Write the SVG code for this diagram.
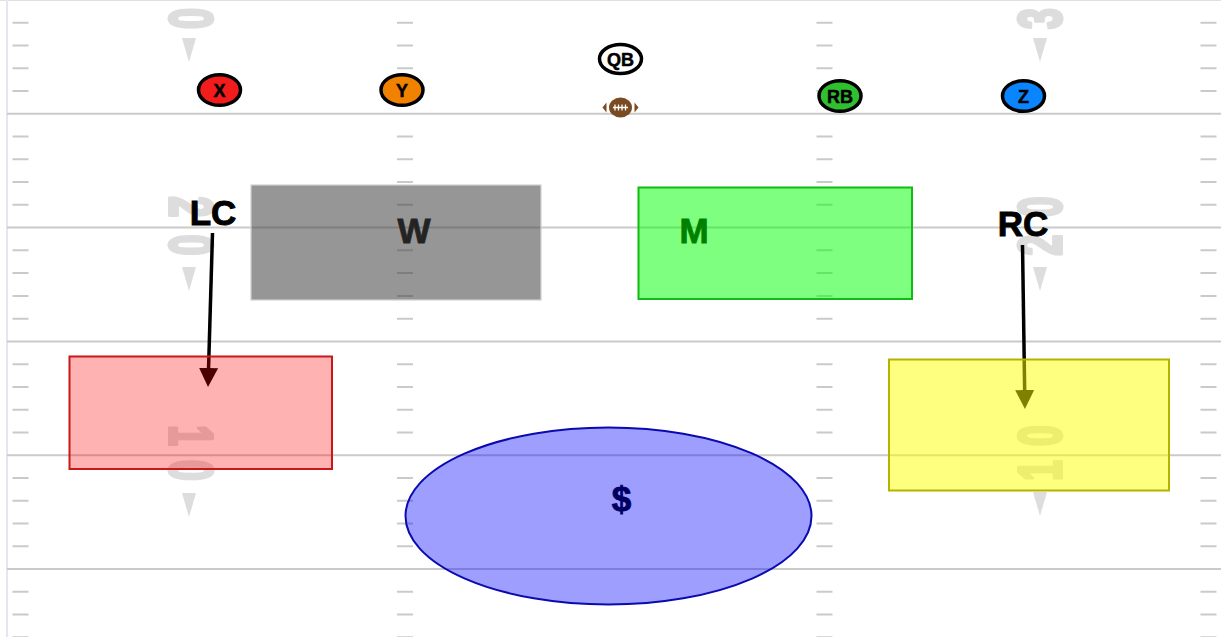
<svg xmlns="http://www.w3.org/2000/svg" xmlns:xlink="http://www.w3.org/1999/xlink" width="1221" height="637" viewBox="0 0 1221 637">
<style>
.yl{stroke:#cacaca;stroke-width:2;fill:none}
.hash{stroke:#cacaca;stroke-width:2;fill:none}
.num{font-family:"Liberation Sans",Arial,sans-serif;font-weight:bold;font-size:62px;fill:#dddddd;stroke:#dddddd;stroke-width:4;stroke-linejoin:round;text-anchor:middle}
.dir{fill:#dddddd}
.lbl{font-family:"Liberation Sans",Arial,sans-serif;font-weight:bold;font-size:35px;text-anchor:middle;fill:#000;stroke:#000;stroke-width:0.9}
.conn{stroke:#000;stroke-width:3.5;fill:none}
.pl{stroke:#000;stroke-width:3.5}
.pt{font-family:"Liberation Sans",Arial,sans-serif;font-weight:bold;font-size:18px;text-anchor:middle;fill:#000;stroke:#000;stroke-width:0.5}
</style>
<defs>
<marker id="ah" markerUnits="userSpaceOnUse" markerWidth="20" markerHeight="20" refX="9" refY="9.5" orient="auto">
<path d="M0,0 L19,9.5 L0,19 Z" fill="#000"/>
</marker>
<path id="hashcol" class="hash" d="M0 22.76h16M0 45.52h16M0 68.28h16M0 91.04h16M0 136.56h16M0 159.32h16M0 182.08h16M0 204.84h16M0 250.36h16M0 273.12h16M0 295.88h16M0 318.64h16M0 364.16h16M0 386.92h16M0 409.68h16M0 432.44h16M0 477.96h16M0 500.72h16M0 523.48h16M0 546.24h16M0 591.76h16M0 614.52h16M0 637.28h16"/>
<path id="dirArrow" class="dir" d="M-7 0 L7 0 L0 24 Z"/>
</defs>
<rect width="1221" height="637" fill="#ffffff"/>
<g id="field">
<line x1="0" y1="0.5" x2="1221" y2="0.5" stroke="#e0e0e0" stroke-width="1"/>
<line x1="7" y1="0" x2="7" y2="637" stroke="#e6e6f0" stroke-width="2"/>
<path class="yl" d="M7 113.8H1221M7 227.6H1221M7 341.4H1221M7 455.2H1221M7 569H1221"/>
<use xlink:href="#hashcol" x="12.5"/>
<use xlink:href="#hashcol" x="397"/>
<use xlink:href="#hashcol" x="816.5"/>
<use xlink:href="#hashcol" x="1200.5"/>
<text class="num" transform="translate(170,0) rotate(90) scale(0.6,1)" x="-31 31" y="0">30</text>
<text class="num" transform="translate(170,226) rotate(90) scale(0.6,1)" x="-32 32" y="0">20</text>
<text class="num" transform="translate(170,453) rotate(90) scale(0.6,1)" x="-29 29" y="0">10</text>
<text class="num" transform="translate(1061,0) rotate(-90) scale(0.6,1)" x="-31 31" y="0">30</text>
<text class="num" transform="translate(1061,226) rotate(-90) scale(0.6,1)" x="-32 32" y="0">20</text>
<text class="num" transform="translate(1061,453) rotate(-90) scale(0.6,1)" x="-29 29" y="0">10</text>
<use xlink:href="#dirArrow" x="189" y="38"/>
<use xlink:href="#dirArrow" x="189" y="267"/>
<use xlink:href="#dirArrow" x="189" y="493"/>
<use xlink:href="#dirArrow" x="1040" y="38"/>
<use xlink:href="#dirArrow" x="1040" y="267"/>
<use xlink:href="#dirArrow" x="1040" y="492"/>
</g>
<g id="connectors">
<line class="conn" x1="212.5" y1="233" x2="208.3" y2="377" marker-end="url(#ah)"/>
<line class="conn" x1="1022.5" y1="245" x2="1024.8" y2="399" marker-end="url(#ah)"/>
</g>
<g id="node-LC"><text class="lbl" x="213" y="225">LC</text></g>
<g id="node-RC"><text class="lbl" x="1023" y="236">RC</text></g>
<g id="node-W">
<text class="lbl" x="414" y="243">W</text>
<rect x="251" y="185" width="290" height="115" fill="#404040" fill-opacity="0.55" stroke="#d0d0d0" stroke-width="1.2"/>
</g>
<g id="node-M">
<text class="lbl" x="694" y="243">M</text>
<rect x="638.5" y="187.5" width="273.5" height="111.5" fill="#00ff00" fill-opacity="0.5" stroke="#11bb11" stroke-width="2"/>
</g>
<g id="node-deep-left">
<rect x="69.5" y="356.5" width="262.5" height="112.5" fill="#ff0000" fill-opacity="0.3" stroke="#c81818" stroke-width="2"/>
</g>
<g id="node-deep-right">
<rect x="889" y="359.5" width="280" height="131" fill="#ffff00" fill-opacity="0.5" stroke="#b4b400" stroke-width="2"/>
</g>
<g id="node-money">
<text class="lbl" x="621.5" y="511">$</text>
<ellipse cx="608.5" cy="516" rx="203" ry="88.5" fill="#0000ff" fill-opacity="0.38" stroke="#0a0ab0" stroke-width="2"/>
</g>
<g id="node-ball">
<path d="M606.5 102.5 L602.5 107.5 L606.5 112.5 Z" fill="#7a4a22"/>
<path d="M634.5 102.5 L638.5 107.5 L634.5 112.5 Z" fill="#7a4a22"/>
<ellipse cx="620.5" cy="107.5" rx="11.5" ry="10" fill="#7a4a22"/>
<path d="M613 107.5H628M615 104.5V110.5M618.5 104.5V110.5M622 104.5V110.5M625.5 104.5V110.5" stroke="#ffffff" stroke-width="1.3" fill="none"/>
</g>
<g id="node-QB">
<ellipse class="pl" cx="620.5" cy="59" rx="21" ry="14.5" fill="#ffffff"/>
<text class="pt" x="620.5" y="65.5">QB</text>
</g>
<g id="node-X">
<ellipse class="pl" cx="219.5" cy="90" rx="21" ry="15.3" fill="#f21c1c"/>
<text class="pt" x="219.5" y="96.5">X</text>
</g>
<g id="node-Y">
<ellipse class="pl" cx="402" cy="90" rx="21" ry="15.3" fill="#f08200"/>
<text class="pt" x="402" y="96.5">Y</text>
</g>
<g id="node-RB">
<ellipse class="pl" cx="840" cy="96" rx="21" ry="15.3" fill="#2fbf2f"/>
<text class="pt" x="840" y="102.5">RB</text>
</g>
<g id="node-Z">
<ellipse class="pl" cx="1023.5" cy="96" rx="21" ry="15.3" fill="#0a84ff"/>
<text class="pt" x="1023.5" y="102.5">Z</text>
</g>
</svg>
